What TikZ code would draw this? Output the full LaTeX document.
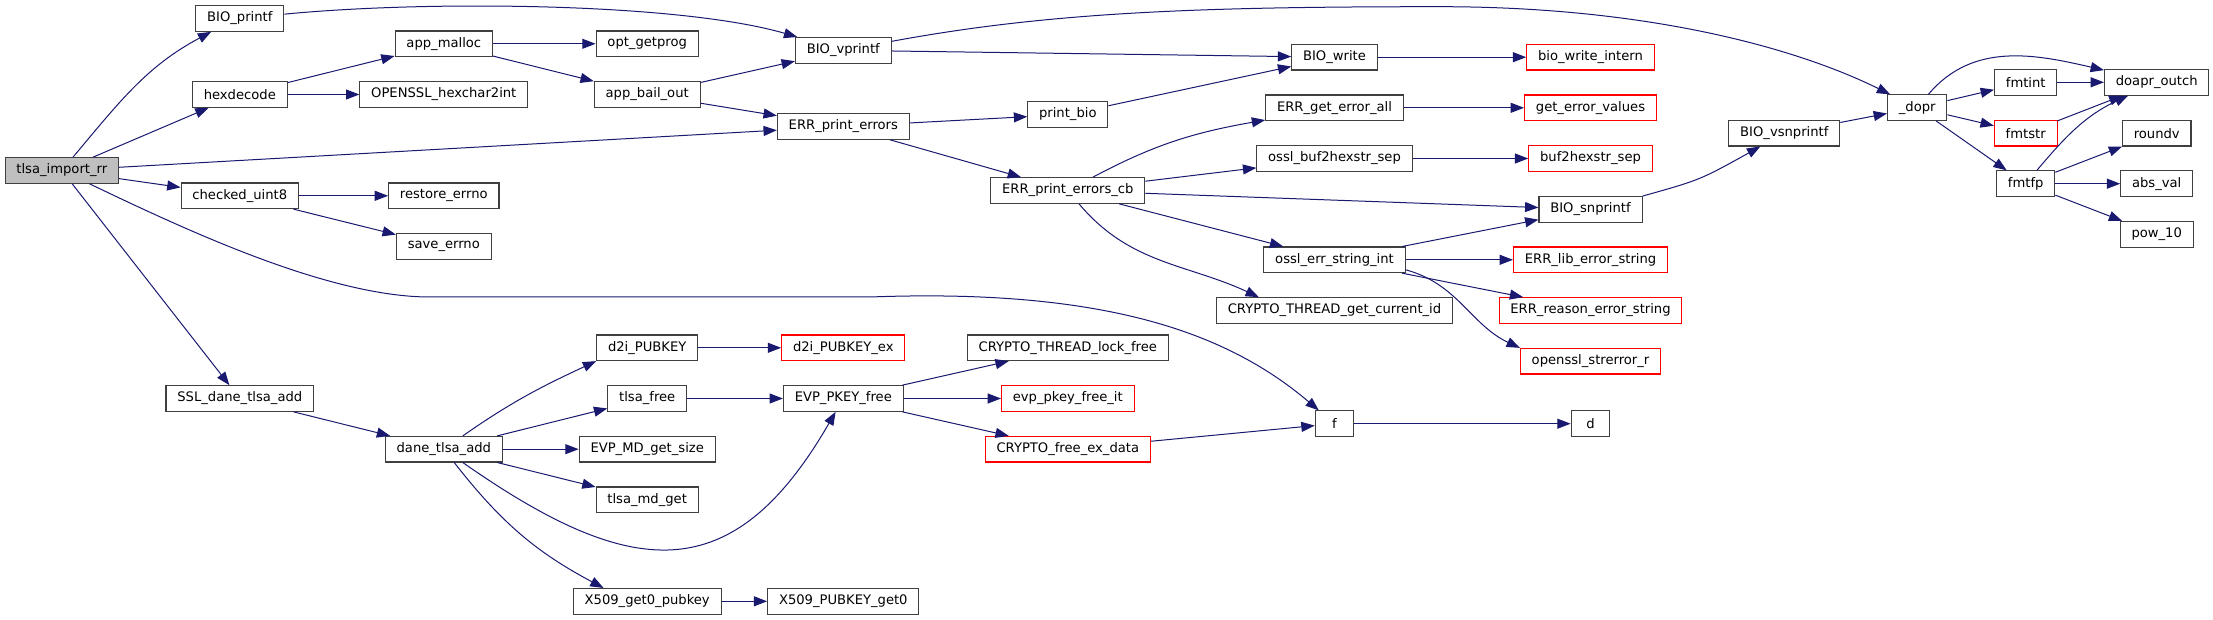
\documentclass[tikz,border=0pt]{standalone}
\usepackage{fontspec}
\setmainfont{DejaVu Sans}
\usepackage{tikz}
\usetikzlibrary{arrows.meta}
\definecolor{edgeblue}{RGB}{25,25,112}
\definecolor{boxgray}{RGB}{64,64,64}
\definecolor{rootgray}{RGB}{191,191,191}

\begin{document}
\begin{tikzpicture}[
  x=0.75pt, y=-0.75pt,
  fn/.style={rectangle, draw=boxgray, line width=0.8pt, fill=white, minimum height=19.2pt,
             minimum width=29pt, inner xsep=8.5pt, inner ysep=0pt, font=\fontsize{9.85}{11}\selectfont},
  rootfn/.style={fn, fill=rootgray},
  ext/.style={fn, draw=red},
  call/.style={draw=edgeblue, line width=0.75pt, -{Triangle[length=10pt,width=7.5pt]}}
]
  \useasboundingbox (0,0) rectangle (2213,620);

  % column 0 and 1
  \node[rootfn] (tir) at (61.8,170.5) {tlsa\_import\_rr};
  \node[fn] (bioprintf) at (239.8,18.5) {BIO\_printf};
  \node[fn] (hexdecode) at (239.8,94.5) {hexdecode};
  \node[fn] (checked) at (239.8,195.8) {checked\_uint8};
  \node[fn] (ssldta) at (239.8,398.5) {SSL\_dane\_tlsa\_add};

  % column 2
  \node[fn] (appmalloc) at (443.8,43.8) {app\_malloc};
  \node[fn] (hexchar) at (443.8,94.5) {OPENSSL\_hexchar2int};
  \node[fn] (restore) at (443.8,195.8) {restore\_errno};
  \node[fn] (saveerr) at (443.8,246.5) {save\_errno};
  \node[fn] (dane) at (443.8,449.2) {dane\_tlsa\_add};

  % column 3
  \node[fn] (optget) at (647.2,43.8) {opt\_getprog};
  \node[fn] (bailout) at (647.2,94.5) {app\_bail\_out};
  \node[fn] (d2i) at (647.2,347.8) {d2i\_PUBKEY};
  \node[fn] (tlsafree) at (647.2,398.5) {tlsa\_free};
  \node[fn] (mdsize) at (647.2,449.2) {EVP\_MD\_get\_size};
  \node[fn] (mdget) at (647.2,499.8) {tlsa\_md\_get};
  \node[fn] (x509get) at (647.2,601.3) {X509\_get0\_pubkey};

  % column 4
  \node[fn] (bvprintf) at (843.3,50.3) {BIO\_vprintf};
  \node[fn] (errprint) at (843.3,126.5) {ERR\_print\_errors};
  \node[ext] (d2iex) at (843.3,347.8) {d2i\_PUBKEY\_ex};
  \node[fn] (pkeyfree) at (843.3,398.5) {EVP\_PKEY\_free};
  \node[fn] (x509pk) at (843.3,601.3) {X509\_PUBKEY\_get0};

  % column 5
  \node[fn] (printbio) at (1067.8,114.5) {print\_bio};
  \node[fn] (errcb) at (1067.8,190.5) {ERR\_print\_errors\_cb};
  \node[fn] (lockfree) at (1067.8,347.8) {CRYPTO\_THREAD\_lock\_free};
  \node[ext] (freeit) at (1067.8,398.5) {evp\_pkey\_free\_it};
  \node[ext] (freeex) at (1067.8,449.2) {CRYPTO\_free\_ex\_data};

  % column 6
  \node[fn] (biowrite) at (1334.5,57.2) {BIO\_write};
  \node[fn] (geterr) at (1334.5,107.8) {ERR\_get\_error\_all};
  \node[fn] (buf2hex) at (1334.5,158.5) {ossl\_buf2hexstr\_sep};
  \node[fn] (errstr) at (1334.5,259.8) {ossl\_err\_string\_int};
  \node[fn] (curid) at (1334.5,310.5) {CRYPTO\_THREAD\_get\_current\_id};
  \node[fn] (f) at (1334.5,423.7) {f};

  % column 7
  \node[ext] (biointern) at (1590.5,57.2) {bio\_write\_intern};
  \node[ext] (getvals) at (1590.5,107.8) {get\_error\_values};
  \node[ext] (bufsep) at (1590.5,158.5) {buf2hexstr\_sep};
  \node[fn] (bsnprintf) at (1590.5,209.4) {BIO\_snprintf};
  \node[ext] (liberr) at (1590.5,259.8) {ERR\_lib\_error\_string};
  \node[ext] (reasonerr) at (1590.5,310.5) {ERR\_reason\_error\_string};
  \node[ext] (strerr) at (1590.5,361.2) {openssl\_strerror\_r};
  \node[fn] (d) at (1590.5,423.7) {d};

  % columns 8 to 10
  \node[fn] (bvsnprintf) at (1784.3,133.2) {BIO\_vsnprintf};
  \node[fn] (dopr) at (1917.2,107.7) {\_dopr};
  \node[fn] (fmtint) at (2025.7,82.3) {fmtint};
  \node[ext] (fmtstr) at (2025.7,133.2) {fmtstr};
  \node[fn] (fmtfp) at (2025.7,183.7) {fmtfp};
  \node[fn] (outch) at (2156.7,82.3) {doapr\_outch};
  \node[fn] (roundv) at (2156.7,133.2) {roundv};
  \node[fn] (absval) at (2156.7,183.7) {abs\_val};
  \node[fn] (pow10) at (2156.7,234.3) {pow\_10};

  % calls
  \draw[call] (tir) to[out=50,in=208] (bioprintf.205);
  \draw[call] (tir) -- (hexdecode);
  \draw[call] (tir) -- (errprint);
  \draw[call] (tir) -- (checked);
  \draw[call] (tir) .. controls (190,232) and (330,297) .. (430,297) -- (870,297)
                    .. controls (1110,288) and (1230,335) .. (f);
  \draw[call] (tir) -- (ssldta);

  \draw[call] (bioprintf) .. controls (430,0) and (680,3) .. (bvprintf);
  \draw[call] (hexdecode) -- (appmalloc);
  \draw[call] (hexdecode) -- (hexchar);
  \draw[call] (checked) -- (restore);
  \draw[call] (checked) -- (saveerr);
  \draw[call] (ssldta) -- (dane);

  \draw[call] (appmalloc) -- (optget);
  \draw[call] (appmalloc) -- (bailout);
  \draw[call] (dane) to[out=35,in=205] (d2i.south west);
  \draw[call] (dane) -- (tlsafree);
  \draw[call] (dane) -- (mdsize);
  \draw[call] (dane) -- (mdget);
  \draw[call] (dane) to[out=-35,in=-120,looseness=1.4] (pkeyfree);
  \draw[call] (dane) to[out=-52,in=152] (x509get.163);

  \draw[call] (bailout) -- (bvprintf);
  \draw[call] (bailout) -- (errprint);
  \draw[call] (d2i) -- (d2iex);
  \draw[call] (tlsafree) -- (pkeyfree);
  \draw[call] (x509get) -- (x509pk);

  \draw[call] (bvprintf) .. controls (1050,12) and (1200,6.7) .. (1440,6.7)
                         .. controls (1640,6.7) and (1790,45) .. (dopr);
  \draw[call] (bvprintf) -- (biowrite);
  \draw[call] (errprint) -- (printbio);
  \draw[call] (errprint) -- (errcb);
  \draw[call] (pkeyfree) -- (lockfree);
  \draw[call] (pkeyfree) -- (freeit);
  \draw[call] (pkeyfree) -- (freeex);

  \draw[call] (printbio) -- (biowrite);
  \draw[call] (errcb) to[out=28,in=190] (geterr);
  \draw[call] (errcb) -- (buf2hex);
  \draw[call] (errcb) -- (bsnprintf);
  \draw[call] (errcb) -- (errstr);
  \draw[call] (errcb) to[out=-50,in=155] (curid.170);
  \draw[call] (freeex) -- (f);

  \draw[call] (biowrite) -- (biointern);
  \draw[call] (geterr) -- (getvals);
  \draw[call] (buf2hex) -- (bufsep);
  \draw[call] (errstr) -- (bsnprintf);
  \draw[call] (errstr) -- (liberr);
  \draw[call] (errstr) -- (reasonerr);
  \draw[call] (errstr.-8) to[out=-15,in=155] (strerr.north west);
  \draw[call] (f) -- (d);

  \draw[call] (bsnprintf.north east) .. controls (1700,180) .. (bvsnprintf);
  \draw[call] (bvsnprintf) -- (dopr);
  \draw[call] (dopr) to[out=50,in=167] (outch);
  \draw[call] (dopr) -- (fmtint);
  \draw[call] (dopr) -- (fmtstr);
  \draw[call] (dopr) -- (fmtfp);
  \draw[call] (fmtint) -- (outch);
  \draw[call] (fmtstr) -- (outch);
  \draw[call] (fmtfp) to[out=50,in=205] (outch);
  \draw[call] (fmtfp) -- (roundv);
  \draw[call] (fmtfp) -- (absval);
  \draw[call] (fmtfp) -- (pow10);
\end{tikzpicture}
\end{document}
